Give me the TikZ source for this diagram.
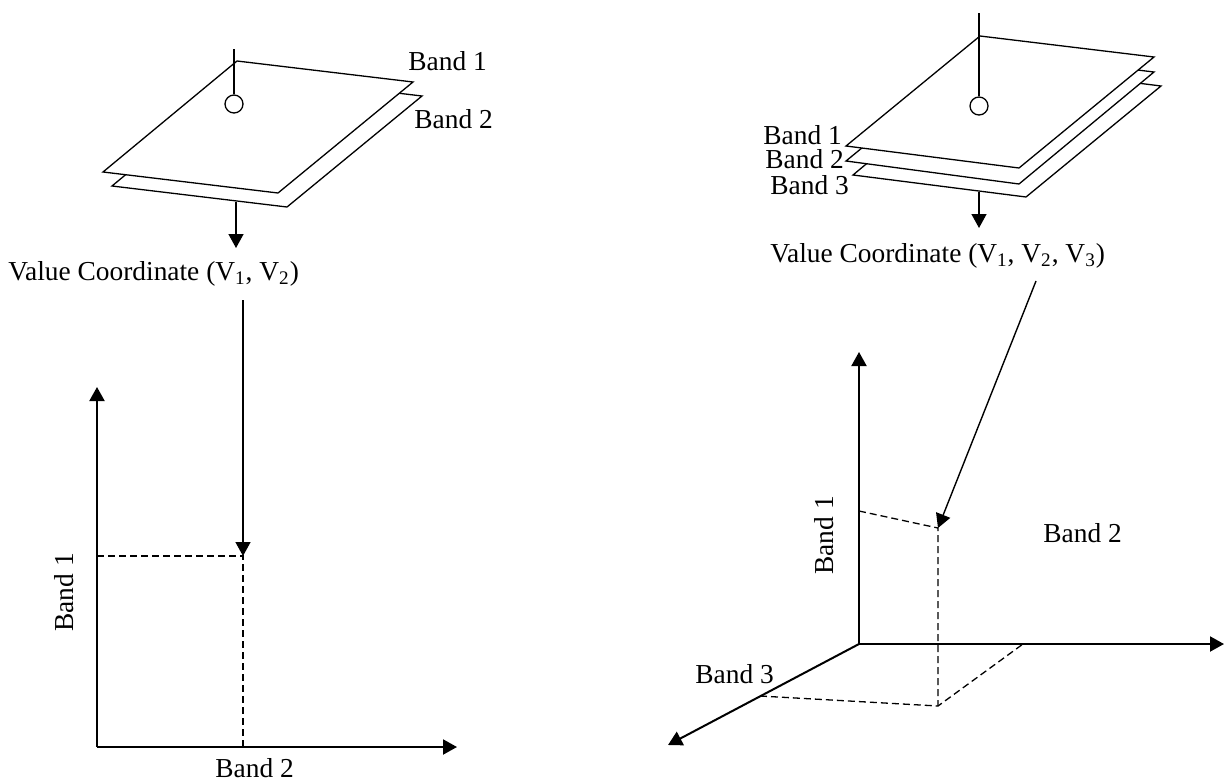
\documentclass[tikz,border=0pt]{standalone}
\usepackage{fontspec}
\setmainfont{Liberation Serif}
\usetikzlibrary{arrows.meta}

\begin{document}
\begin{tikzpicture}[
  x=0.5pt, y=-0.5pt,
  plane/.style={draw, fill=white, line width=0.65pt},
  pixel/.style={circle, draw, line width=0.65pt, minimum size=9pt, inner sep=0pt},
  axis/.style={line width=1pt, -{Triangle[length=7pt, width=7.5pt]}},
  pointer/.style={line width=0.7pt, -{Triangle[length=7pt, width=7.5pt]}},
  guide/.style={line width=0.65pt, dash pattern=on 3.5pt off 2pt},
  bandtext/.style={inner sep=0pt, anchor=base west,
                   font=\fontsize{13.7}{16}\selectfont}
]
\useasboundingbox (0,0) rectangle (1225,782);
% Two-band image stack (left)
\draw[plane] (246,75) -- (422,96) -- (287,207) -- (112,186) -- cycle;
\draw[plane] (237,61) -- (413,82) -- (278,193) -- (103,172) -- cycle;
\coordinate (pinL) at (234,49);
\node[pixel] (pxL) at (234,104) {};
\draw[line width=0.65pt] (pinL) -- (pxL.north);
\node[bandtext] (b1L) at (408,70) {Band 1};
\node[bandtext] (b2L) at (414,128) {Band 2};
\coordinate (stackL) at (236,202);
\coordinate (valL) at (236,248);
\draw[pointer] (stackL) -- (valL);
\node[bandtext] (vcL) at (8,280) {Value Coordinate (V\textsubscript{1}, V\textsubscript{2})};
% Two-band feature space
\coordinate (oL) at (97,747);
\coordinate (yL) at (97,387);
\coordinate (xL) at (457,747);
\coordinate (pL) at (243,556);
\coordinate (pLy) at (97,556);
\coordinate (pLx) at (243,747);
\coordinate (dropL) at (243,300);
\draw[axis] (oL) -- (yL);
\draw[axis] (oL) -- (xL);
\draw[guide] (pLy) -- (pL) -- (pLx);
\draw[pointer] (dropL) -- (pL);
\node[bandtext, rotate=90] (ax1L) at (73,632) {Band 1};
\node[bandtext] (ax2L) at (215,777) {Band 2};
% Three-band image stack (right)
\draw[plane] (1161,86) -- (1026,197) -- (853,175) -- (986,64) -- cycle;
\draw[plane] (980,51) -- (1154,72) -- (1019,184) -- (846,161) -- cycle;
\draw[plane] (980,36) -- (1154,57) -- (1019,168) -- (846,146) -- cycle;
\coordinate (pinR) at (979,13);
\node[pixel] (pxR) at (979,106) {};
\draw[line width=0.65pt] (pinR) -- (pxR.north);
\node[bandtext] (b1R) at (763,144) {Band 1};
\node[bandtext] (b2R) at (765,168) {Band 2};
\node[bandtext] (b3R) at (770,194) {Band 3};
\coordinate (stackR) at (979,192);
\coordinate (valR) at (979,228);
\draw[pointer] (stackR) -- (valR);
\node[bandtext] (vcR) at (770,262) {Value Coordinate (V\textsubscript{1}, V\textsubscript{2}, V\textsubscript{3})};
% Three-band feature space
\coordinate (oR) at (859,644);
\coordinate (yR) at (859,352);
\coordinate (xR) at (1224,644);
\coordinate (zR) at (668,745);
\coordinate (pR) at (938,528);
\coordinate (pRy) at (859,511);
\coordinate (qR) at (938,706);
\coordinate (qRz) at (760,696);
\coordinate (qRx) at (1023,644);
\coordinate (dropR) at (1036,281);
\draw[axis] (oR) -- (yR);
\draw[axis] (oR) -- (xR);
\draw[axis] (oR) -- (zR);
\draw[guide] (pRy) -- (pR) -- (qR);
\draw[guide] (qRz) -- (qR) -- (qRx);
\draw[pointer] (dropR) -- (pR);
\node[bandtext, rotate=90] (ax1R) at (833,575) {Band 1};
\node[bandtext] (ax2R) at (1043,542) {Band 2};
\node[bandtext] (ax3R) at (695,683) {Band 3};
\end{tikzpicture}
\end{document}
